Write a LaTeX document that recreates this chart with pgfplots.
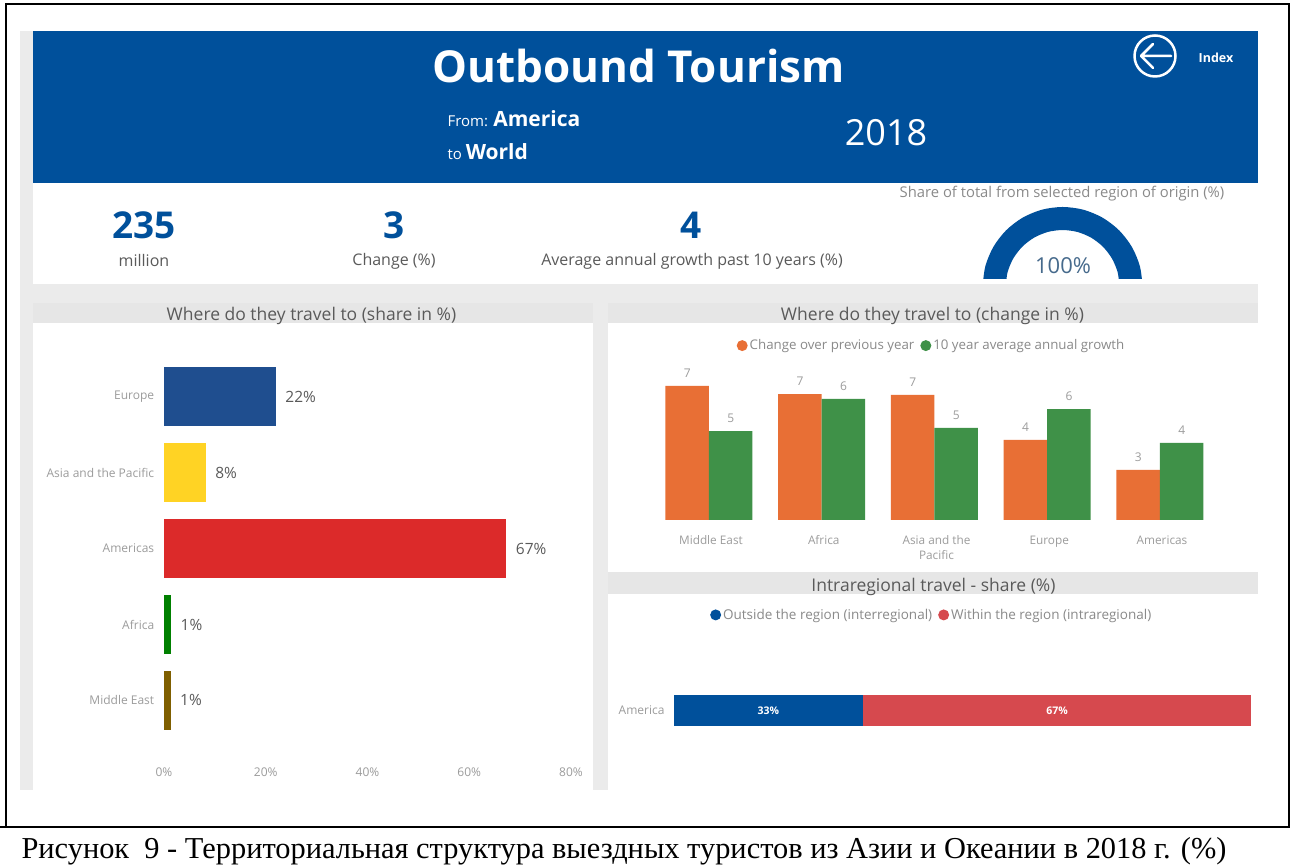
\documentclass[border=0pt]{standalone}
\usepackage{fontspec}
\setmainfont{Open Sans}
\newfontfamily\capfont{Liberation Serif}
\usepackage{pgfplots}
\pgfplotsset{compat=1.18}
\usepgfplotslibrary{polar}
\definecolor{hdr}{HTML}{00509B}
\definecolor{panel}{HTML}{EBEBEB}
\definecolor{bar}{HTML}{E6E6E6}
\definecolor{txt}{HTML}{5A5A5A}
\definecolor{ticktxt}{HTML}{9C9C9C}
\definecolor{lgdtxt}{HTML}{8A8A8A}
\definecolor{cOrange}{HTML}{E86F35}
\definecolor{cGreen}{HTML}{3F9148}
\definecolor{cRed}{HTML}{D6494E}
\definecolor{cEurope}{HTML}{1F4E8F}
\definecolor{cAsia}{HTML}{FFD324}
\definecolor{cAmericas}{HTML}{DC2A2A}
\definecolor{cAfrica}{HTML}{008000}
\definecolor{cMideast}{HTML}{7F5F00}
\newcommand{\fs}[1]{\fontsize{#1}{#1}\selectfont}
% all coordinates are pixels of the reference, y counted from the bottom
\pgfplotsset{dash/.style={
  scale only axis, axis line style={draw=none}, tick style={draw=none},
  clip=false, /pgf/number format/assume math mode=true,
  tick label style={text=ticktxt,font=\fs{12}},
}, 
circ/.style={legend image code/.code={\fill[##1] (0.5pt,0pt) circle (5.5pt);}}}
\begin{document}
\begin{tikzpicture}[x=1pt,y=1pt]
\path[use as bounding box] (0,0) rectangle (1290,865);
\fill[white] (0,0) rectangle (1290,865);
% panel
\fill[panel] (20,75) rectangle (1258,834);
\fill[white] (33,581) rectangle (1258,682);
\fill[hdr] (33,682) rectangle (1258,834);
% gauge
\begin{polaraxis}[at={(1062.6pt,578pt)},anchor=center,scale only axis,width=160pt,height=160pt,
  xmin=0,xmax=360,ymin=0,ymax=80,hide axis,clip=false]
\addplot[hdr,line width=23pt,no marks,smooth] coordinates {
 (180,68.5)(165,68.5)(150,68.5)(135,68.5)(120,68.5)(105,68.5)(90,68.5)
 (75,68.5)(60,68.5)(45,68.5)(30,68.5)(15,68.5)(0,68.5)};
\end{polaraxis}
\fill[white] (975,581) rectangle (1150,586);
\fill[panel] (33,562) rectangle (1258,581);
\fill[bar] (33,542) rectangle (593,562);
\fill[bar] (608,542) rectangle (1258,562);
\fill[white] (33,75) rectangle (593,542);
\fill[white] (608,293) rectangle (1258,542);
\fill[bar] (608,271) rectangle (1258,293);
\fill[white] (608,75) rectangle (1258,271);
% header text
\node[white,font=\fs{44}\bfseries] at (638.5,799) {Outbound Tourism};
\node[white,anchor=base west,font=\fs{15}] at (444,738) {From: \fs{21}\bfseries America};
\node[white,anchor=base west,font=\fs{15}] at (444,705) {to \fs{21}\bfseries World};
\node[white,font=\fs{36}] at (886,732) {2018};
\node[white,font=\fs{12.5}\bfseries] at (1216,807) {Index};
\draw[white,line width=2.5] (1155,809) circle (20.5);
\draw[white,line width=2.5,line cap=round,line join=round] (1171,809)--(1141,809) (1153,821)--(1141,809)--(1153,797);
% KPI
\node[hdr,font=\fs{37}\bfseries] at (144,640) {235};
\node[hdr,font=\fs{37}\bfseries] at (394,640) {3};
\node[hdr,font=\fs{37}\bfseries] at (691,640) {4};
\node[txt,font=\fs{16}] at (144,604) {million};
\node[txt,font=\fs{16}] at (394,604) {Change (\%)};
\node[txt,font=\fs{16}] at (692,604) {Average annual growth past 10 years (\%)};
\node[lgdtxt,font=\fs{14.8}] at (1062,671) {Share of total from selected region of origin (\%)};
\node[text=hdr!45!gray,font=\fs{22}] at (1063,599) {100\%};
% section titles
\node[txt,font=\fs{17.5}] at (311.5,549.5) {Where do they travel to (share in \%)};
\node[txt,font=\fs{17.5}] at (932.5,549.5) {Where do they travel to (change in \%)};
\node[txt,font=\fs{17.5}] at (933.5,278.5) {Intraregional travel - share (\%)};
% share bars
\begin{axis}[dash,at={(164pt,107pt)},anchor=south west,width=407pt,height=399pt,
  xmin=0,xmax=80,ymin=-0.5,ymax=4.76,y dir=reverse,
  xtick={0,20,40,60,80},xticklabels={0\%,20\%,40\%,60\%,80\%},
  ytick={0,1,2,3,4},yticklabels={Europe,Asia and the Pacific,Americas,Africa,Middle East},
  yticklabel style={xshift=-2pt},xticklabel style={yshift=-6pt},
  xbar,bar width=59pt,bar shift=0pt,
  nodes near coords={\pgfmathprintnumber[fixed,precision=0]{\pgfplotspointmeta}\%},
  nodes near coords style={text=txt,font=\fs{15.5},xshift=6pt},
  point meta=x]
\addplot[draw=none,fill=cEurope] coordinates {(22,0)};
\addplot[draw=none,fill=cAsia] coordinates {(8.2,1)};
\addplot[draw=none,fill=cAmericas] coordinates {(67.3,2)};
\addplot[draw=none,fill=cAfrica] coordinates {(1.4,3)};
\addplot[draw=none,fill=cMideast] coordinates {(1.3,4)};
\end{axis}
% change bars
\begin{axis}[dash,at={(652.6pt,345pt)},anchor=south west,width=563.75pt,height=150.4pt,
  xmin=-0.5,xmax=4.5,ymin=0,ymax=8,
  xtick={0,1,2,3,4},
  xticklabels={Middle East,Africa,{Asia and the\\Pacific},Europe,Americas},
  xticklabel style={align=center,yshift=-8pt,xshift=2pt,font=\fontsize{11.8}{15}\selectfont,anchor=north},
  ytick=\empty,
  ybar=0pt,bar width=43.5pt,
  nodes near coords={\pgfmathprintnumber[fixed,precision=0]{\pgfplotspointmeta}},
  nodes near coords style={text=ticktxt,font=\fs{12},yshift=5pt},
  legend style={at={(0.5,1.0)},anchor=south,yshift=14pt,xshift=-3pt,draw=none,fill=none,legend columns=2,
    font=\fs{13.3},text=lgdtxt,/tikz/every even column/.append style={column sep=4pt}},
  circ]
\addplot[draw=none,fill=cOrange] coordinates {(0,7.13)(1,6.7)(2,6.65)(3,4.26)(4,2.66)};
\addplot[draw=none,fill=cGreen] coordinates {(0,4.73)(1,6.44)(2,4.9)(3,5.9)(4,4.1)};
\legend{Change over previous year,10 year average annual growth}
\end{axis}
% intraregional bar
\begin{axis}[dash,at={(674pt,139pt)},anchor=south west,width=577.4pt,height=31pt,
  xmin=0,xmax=100,ymin=-0.5,ymax=0.5,
  xtick=\empty,ytick={0},yticklabels={America},yticklabel style={xshift=-6pt},
  xbar stacked,bar width=31pt,
  nodes near coords={\pgfmathprintnumber[fixed,precision=0]{\pgfplotspointmeta}\%},
  nodes near coords style={text=white,font=\fs{10.5}\bfseries},
  point meta=explicit,
  legend style={at={(0.5,1)},anchor=south,yshift=70pt,xshift=-31pt,draw=none,fill=none,legend columns=2,
    font=\fs{13.5},text=lgdtxt,/tikz/every even column/.append style={column sep=4pt}},
  circ]
\addplot[draw=none,fill=hdr] coordinates {(32.7,0) [32.7]};
\addplot[draw=none,fill=cRed] coordinates {(67.3,0) [67.3]};
\legend{Outside the region (interregional),Within the region (intraregional)}
\end{axis}
% page frame and caption
\draw[black,line width=2] (6,38) -- (6,861) -- (1289,861) -- (1289,38) (0,38) -- (1290,38);
\node[anchor=base west,font=\capfont\fs{30.4}] at (18,7) {Рисунок\ \ 9 - Территориальная структура выездных туристов из Азии и Океании в 2018 г. (\%)};
\end{tikzpicture}
\end{document}
